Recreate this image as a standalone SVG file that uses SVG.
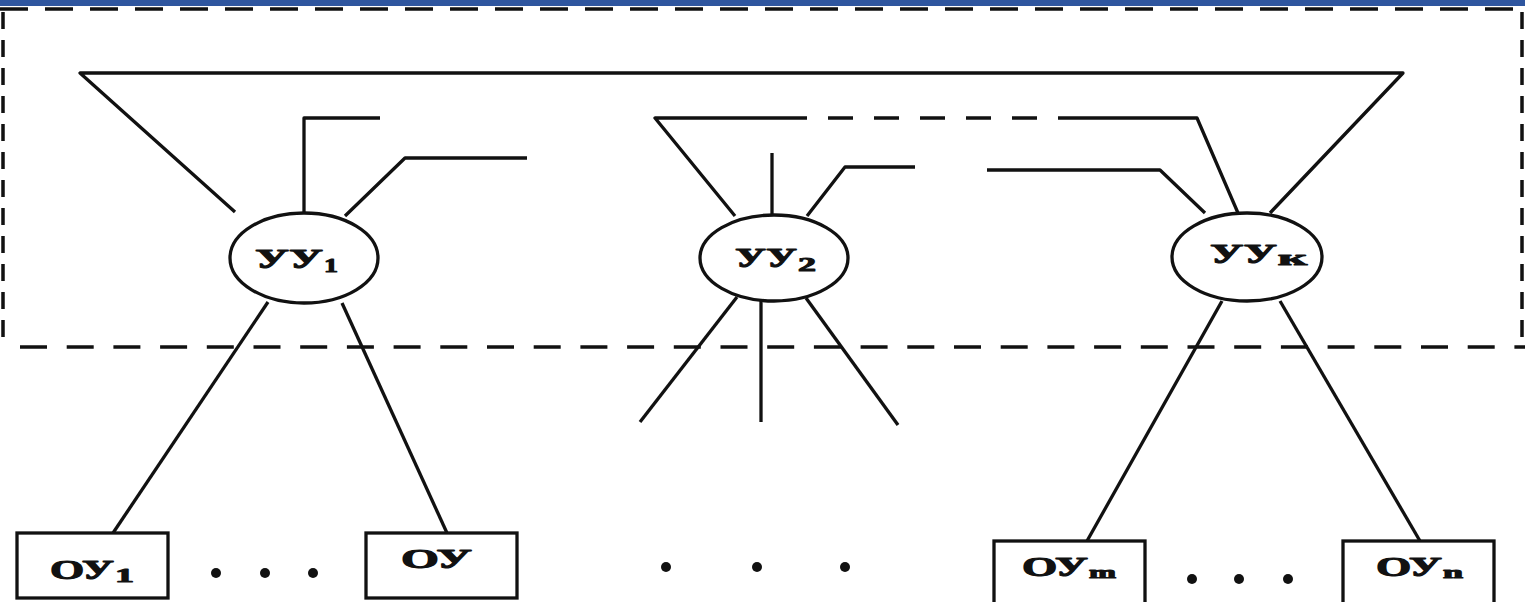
<svg xmlns="http://www.w3.org/2000/svg" width="1525" height="602" viewBox="0 0 1525 602">
<style>
.ln{fill:none;stroke:#111;stroke-width:3.3;stroke-linejoin:round;stroke-linecap:butt}
.bd{fill:none;stroke:#111;stroke-width:3.5}
.nd{fill:#fff;stroke:#111;stroke-width:3.3}
.t{font-family:"Liberation Serif","DejaVu Serif",serif;font-weight:bold;fill:#111;stroke:#111;stroke-width:1;stroke-linejoin:round}
.dot{fill:#111}
</style>
<rect x="0" y="0" width="1525" height="602" fill="#fff"/>
<rect x="0" y="0" width="1525" height="6" fill="#2f569f"/>
<g id="frame">
<line class="bd" x1="0" y1="9" x2="1525" y2="9" stroke-dasharray="28 17"/>
<line class="bd" x1="20" y1="347" x2="1525" y2="347" stroke-dasharray="27 19.7"/>
<line class="bd" x1="3" y1="12" x2="3" y2="346" stroke-dasharray="17 11"/>
<line class="bd" x1="1522" y1="12" x2="1522" y2="346" stroke-dasharray="17 11"/>
</g>
<g id="connectors">
<polyline class="ln" points="235,212 80,73 1403,73 1270,213"/>
<polyline class="ln" points="304,213 304,118 380,118"/>
<polyline class="ln" points="345,216 405,158 527,158"/>
<polyline class="ln" points="735,216 655,118 782,118"/>
<line class="ln" x1="782" y1="118" x2="1073" y2="118" stroke-dasharray="25 21"/>
<polyline class="ln" points="1073,118 1197,118 1238,213"/>
<line class="ln" x1="772" y1="153" x2="772" y2="215"/>
<polyline class="ln" points="807,216 845,167 915,167"/>
<polyline class="ln" points="987,170 1160,170 1205,213"/>
<line class="ln" x1="268" y1="302" x2="113" y2="533"/>
<line class="ln" x1="342" y1="303" x2="447" y2="533"/>
<line class="ln" x1="737" y1="297" x2="640" y2="422"/>
<line class="ln" x1="761" y1="301" x2="761" y2="422"/>
<line class="ln" x1="806" y1="298" x2="898" y2="425"/>
<line class="ln" x1="1222" y1="301" x2="1087" y2="541"/>
<line class="ln" x1="1280" y1="301" x2="1420" y2="541"/>
</g>
<g id="uu1">
<ellipse class="nd" cx="304" cy="258" rx="74" ry="45"/>
<text class="t" x="255" y="268" font-size="27" textLength="68" lengthAdjust="spacingAndGlyphs">УУ</text>
<text class="t" x="324" y="272" font-size="19" textLength="14" lengthAdjust="spacingAndGlyphs">1</text>
</g>
<g id="uu2">
<ellipse class="nd" cx="774" cy="258" rx="74" ry="43"/>
<text class="t" x="735" y="267" font-size="27" textLength="62" lengthAdjust="spacingAndGlyphs">УУ</text>
<text class="t" x="798" y="271" font-size="19" textLength="18" lengthAdjust="spacingAndGlyphs">2</text>
</g>
<g id="uuk">
<ellipse class="nd" cx="1247" cy="257" rx="75" ry="44"/>
<text class="t" x="1210" y="263" font-size="27" textLength="67" lengthAdjust="spacingAndGlyphs">УУ</text>
<text class="t" x="1278" y="265" font-size="21" textLength="29" lengthAdjust="spacingAndGlyphs">к</text>
</g>
<g id="ou1">
<rect class="nd" x="17" y="533" width="151" height="65"/>
<text class="t" x="50" y="579" font-size="27" textLength="64" lengthAdjust="spacingAndGlyphs">ОУ</text>
<text class="t" x="115" y="582" font-size="19" textLength="19" lengthAdjust="spacingAndGlyphs">1</text>
</g>
<g id="ou">
<rect class="nd" x="366" y="533" width="151" height="65"/>
<text class="t" x="401" y="568" font-size="27" textLength="71" lengthAdjust="spacingAndGlyphs">ОУ</text>
</g>
<g id="oum">
<rect class="nd" x="994" y="541" width="151" height="64"/>
<text class="t" x="1022" y="576" font-size="27" textLength="66" lengthAdjust="spacingAndGlyphs">ОУ</text>
<text class="t" x="1089" y="578" font-size="17" textLength="27" lengthAdjust="spacingAndGlyphs">m</text>
</g>
<g id="oun">
<rect class="nd" x="1343" y="541" width="151" height="64"/>
<text class="t" x="1376" y="576" font-size="27" textLength="66" lengthAdjust="spacingAndGlyphs">ОУ</text>
<text class="t" x="1443" y="578" font-size="17" textLength="20" lengthAdjust="spacingAndGlyphs">n</text>
</g>
<g id="ellipses">
<circle class="dot" cx="216" cy="573" r="5"/>
<circle class="dot" cx="265" cy="573" r="5"/>
<circle class="dot" cx="313" cy="573" r="5"/>
<circle class="dot" cx="666" cy="567" r="5"/>
<circle class="dot" cx="757" cy="567" r="5"/>
<circle class="dot" cx="845" cy="567" r="5"/>
<circle class="dot" cx="1192" cy="579" r="5"/>
<circle class="dot" cx="1239" cy="579" r="5"/>
<circle class="dot" cx="1288" cy="579" r="5"/>
</g>
</svg>
